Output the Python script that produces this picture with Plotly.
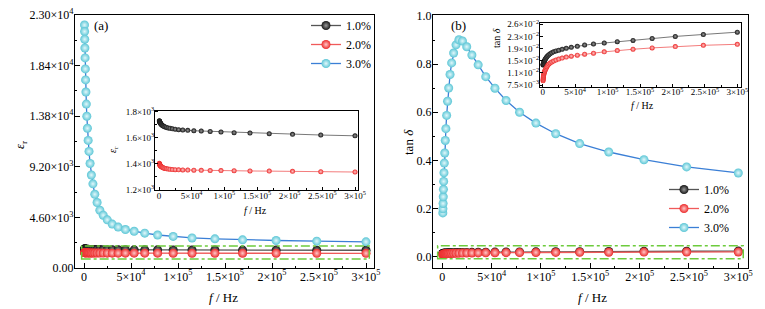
import plotly.graph_objects as go

W, H = 765, 309
SERIF = "Liberation Serif"

# ---------------- data ----------------
freq_hz = [530, 650, 780, 950, 1150, 1390, 1690, 2040, 2480, 3000, 3630, 4400,
           5330, 6460, 7830, 9490, 11490, 13920, 16870, 20440, 24760, 30000,
           36340, 44030, 53340, 64630, 78300, 94860, 114930, 139240, 168700,
           204380, 247620, 300000]

series_names = ["1.0%", "2.0%", "3.0%"]

eps_1 = [1730, 1728, 1726, 1724, 1721, 1718, 1715, 1712, 1709, 1705, 1701, 1697,
         1693, 1689, 1685, 1682, 1679, 1675, 1672, 1668, 1665, 1661, 1659, 1656,
         1653, 1651, 1648, 1643, 1638, 1635, 1630, 1625, 1620, 1614]
eps_2 = [1401, 1398, 1396, 1394, 1391, 1388, 1386, 1383, 1381, 1378, 1375, 1373,
         1370, 1367, 1364, 1362, 1359, 1357, 1355, 1353, 1352, 1351, 1350, 1349,
         1348, 1347, 1346, 1345, 1344, 1342, 1341, 1339, 1336, 1334]
eps_3 = [22090, 21500, 20800, 20000, 19100, 18100, 17100, 16000, 14900, 13800,
         12700, 11600, 10600, 9500, 8450, 7650, 6700, 5950, 5250, 4800, 4380,
         3990, 3720, 3500, 3340, 3170, 3000, 2870, 2730, 2650, 2560, 2500, 2440,
         2380]

tan_1 = [0.0136, 0.0137, 0.0138, 0.0139, 0.0140, 0.0142, 0.0144, 0.0146, 0.0148,
         0.0150, 0.0153, 0.0155, 0.0158, 0.0161, 0.0164, 0.0167, 0.0170, 0.0173,
         0.0176, 0.0179, 0.0181, 0.0184, 0.0187, 0.0190, 0.0193, 0.0197, 0.0200,
         0.0203, 0.0207, 0.0211, 0.0217, 0.0223, 0.0229, 0.0236]
tan_2 = [0.0088, 0.0091, 0.0094, 0.0098, 0.0101, 0.0104, 0.0108, 0.0111, 0.0114,
         0.0117, 0.0120, 0.0123, 0.0127, 0.0131, 0.0135, 0.0139, 0.0142, 0.0145,
         0.0148, 0.0151, 0.0154, 0.0157, 0.0160, 0.0163, 0.0166, 0.0169, 0.0172,
         0.0176, 0.0180, 0.0184, 0.0188, 0.0192, 0.0196, 0.0199]
tan_3 = [0.182, 0.199, 0.221, 0.249, 0.280, 0.313, 0.349, 0.389, 0.431, 0.483,
         0.532, 0.587, 0.646, 0.701, 0.757, 0.805, 0.846, 0.880, 0.901, 0.896,
         0.872, 0.838, 0.797, 0.748, 0.700, 0.649, 0.600, 0.555, 0.511, 0.470,
         0.435, 0.403, 0.373, 0.348]

x_tickvals = [0, 50000, 100000, 150000, 200000, 250000, 300000]
x_ticktext = ["0", "5×10<sup>4</sup>", "1×10<sup>5</sup>", "1.5×10<sup>5</sup>",
              "2×10<sup>5</sup>", "2.5×10<sup>5</sup>", "3×10<sup>5</sup>"]
x_minor = [25000, 75000, 125000, 175000, 225000, 275000]

eps_tickvals = [0, 4600, 9200, 13800, 18400, 23000]
eps_ticktext = ["0.00", "4.60×10<sup>3</sup>", "9.20×10<sup>3</sup>",
                "1.38×10<sup>4</sup>", "1.84×10<sup>4</sup>", "2.30×10<sup>4</sup>"]
eps_minor = [2300, 6900, 11500, 16100, 20700]

tan_tickvals = [0.0, 0.2, 0.4, 0.6, 0.8, 1.0]
tan_ticktext = ["0.0", "0.2", "0.4", "0.6", "0.8", "1.0"]
tan_minor = [0.1, 0.3, 0.5, 0.7, 0.9]

eps_in_tickvals = [1200, 1400, 1600, 1800]
eps_in_ticktext = ["1.2×10<sup>3</sup>", "1.4×10<sup>3</sup>",
                   "1.6×10<sup>3</sup>", "1.8×10<sup>3</sup>"]
eps_in_minor = [1300, 1500, 1700]

tan_in_tickvals = [0.0075, 0.0112, 0.0149, 0.0186, 0.0223, 0.0260]
tan_in_ticktext = ["7.5×10<sup>−3</sup>", "1.1×10<sup>−2</sup>", "1.5×10<sup>−2</sup>",
                   "1.9×10<sup>−2</sup>", "2.3×10<sup>−2</sup>", "2.6×10<sup>−2</sup>"]

# ---------------- styles ----------------
marker_col = ["#151515", "#ec2a2a", "#5cc6d6"]
marker_ctr = ["#9a9a9a", "#ffc8c8", "#e2f8fb"]
line_col = ["#555555", "#f05a5a", "#3b7fd6"]
green = "#6dcb3c"


def px(x):
    return x / W


def py(y):
    return 1 - y / H


fig = go.Figure()

eps_all = [eps_1, eps_2, eps_3]
tan_all = [tan_1, tan_2, tan_3]

for i in range(3):
    for vals, xa, ya, leg in [(eps_all[i], "x", "y", "legend"),
                              (tan_all[i], "x2", "y2", "legend2")]:
        fig.add_trace(go.Scatter(
            x=freq_hz, y=vals, xaxis=xa, yaxis=ya, mode="lines+markers",
            name=series_names[i], legend=leg, showlegend=True,
            line=dict(color=line_col[i], width=1.3),
            marker=dict(size=9, color=marker_col[i],
                        gradient=dict(type="radial", color=marker_ctr[i]),
                        line=dict(width=0)),
        ))

for i in range(2):
    fig.add_trace(go.Scatter(
        x=freq_hz, y=eps_all[i], xaxis="x3", yaxis="y3", mode="lines+markers",
        showlegend=False, line=dict(color=line_col[i], width=0.8),
        marker=dict(size=5, color=marker_col[i],
                    gradient=dict(type="radial", color=marker_ctr[i]), line=dict(width=0))))
    fig.add_trace(go.Scatter(
        x=freq_hz, y=tan_all[i], xaxis="x4", yaxis="y4", mode="lines+markers",
        showlegend=False, line=dict(color=line_col[i], width=0.8),
        marker=dict(size=5, color=marker_col[i],
                    gradient=dict(type="radial", color=marker_ctr[i]), line=dict(width=0))))


def axis(domain, rng, tv, tt, minor, fs, tl, anchor, lw=1.2, so=-2):
    return dict(domain=domain, range=rng, tickmode="array", tickvals=tv, ticktext=tt,
                showline=True, linecolor="black", linewidth=lw, mirror=True,
                ticks="inside", ticklen=tl, tickwidth=1, tickcolor="black",
                minor=dict(ticks="inside", ticklen=max(2, tl // 2), tickvals=minor,
                           tickcolor="black", tickwidth=1),
                showgrid=False, zeroline=False, anchor=anchor, automargin=False,
                ticklabelstandoff=so,
                tickfont=dict(family=SERIF, size=fs, color="black"))


fig.update_layout(
    template="none",
    width=W, height=H, margin=dict(l=0, r=0, t=0, b=0, pad=0, autoexpand=False),
    paper_bgcolor="white", plot_bgcolor="white",
    font=dict(family=SERIF, color="black"),
    xaxis=axis([px(75), px(374)], [-9574, 308510], x_tickvals, x_ticktext, x_minor, 12, 5, "y", 1.2, -3),
    yaxis=axis([py(268), py(15)], [0, 23000], eps_tickvals, eps_ticktext, eps_minor, 12, 5, "x", 1.2, -2),
    xaxis2=axis([px(433), px(748)], [-9426, 309830], x_tickvals, x_ticktext, x_minor, 12, 5, "y2", 1.2, -3),
    yaxis2=axis([py(268.3), py(15)], [-0.048, 1.004], tan_tickvals, tan_ticktext, tan_minor, 12, 5, "x2", 1.2, -2),
    xaxis3=axis([px(155), px(358)], [-6122, 304590], x_tickvals, x_ticktext, x_minor, 9, 3, "y3", 1, -3),
    yaxis3=axis([py(190), py(110.7)], [1195, 1808], eps_in_tickvals, eps_in_ticktext, eps_in_minor, 9, 3, "x3", 1, -2),
    xaxis4=axis([px(540), px(741)], [-4162, 305700], x_tickvals, x_ticktext, x_minor, 9, 3, "y4", 1, -3),
    yaxis4=axis([py(86.5), py(23)], [0.007043, 0.026396], tan_in_tickvals, tan_in_ticktext, [], 9, 3, "x4", 1, -2),
    legend=dict(x=px(306), y=py(11), xanchor="left", yanchor="top",
                bgcolor="rgba(0,0,0,0)", itemwidth=30, borderwidth=0,
                font=dict(family=SERIF, size=12, color="black")),
    legend2=dict(x=px(664), y=py(175), xanchor="left", yanchor="top",
                 bgcolor="rgba(0,0,0,0)", itemwidth=30, borderwidth=0,
                 font=dict(family=SERIF, size=12, color="black")),
)

# green dash-dot boxes
fig.add_shape(type="rect", xref="x", yref="y", x0=-2500, x1=303500, y0=815, y1=1990,
              line=dict(color=green, width=1.5, dash="dashdot"))
fig.add_shape(type="rect", xref="x2", yref="y2", x0=-4700, x1=305000, y0=-0.008, y1=0.046,
              line=dict(color=green, width=1.5, dash="dashdot"))

ann = [
    ("(a)", 101, 25, 0, 13),
    ("(b)", 458, 25, 0, 13),
    ("<i>f</i> / Hz", 223, 297, 0, 13),
    ("<i>f</i> / Hz", 592, 297, 0, 13),
    ("<i>ε</i><sub>r</sub>", 20, 145, -90, 13),
    ("tan <i>δ</i>", 408, 142, -90, 13),
    ("<i>f</i> / Hz", 255, 210, 0, 10),
    ("<i>ε</i><sub>r</sub>", 113, 150, -90, 10),
    ("<i>f</i> / Hz", 642, 105, 0, 10),
    ("tan <i>δ</i>", 497, 38, -90, 10),
]
for text, x, y, ang, fs in ann:
    fig.add_annotation(text=text, x=px(x), y=py(y), xref="paper", yref="paper",
                       showarrow=False, textangle=ang, xanchor="center", yanchor="middle",
                       font=dict(family=SERIF, size=fs, color="black"))

fig.write_html("out.html", config={"displayModeBar": False},
               post_script="document.body.style.margin='0';")
